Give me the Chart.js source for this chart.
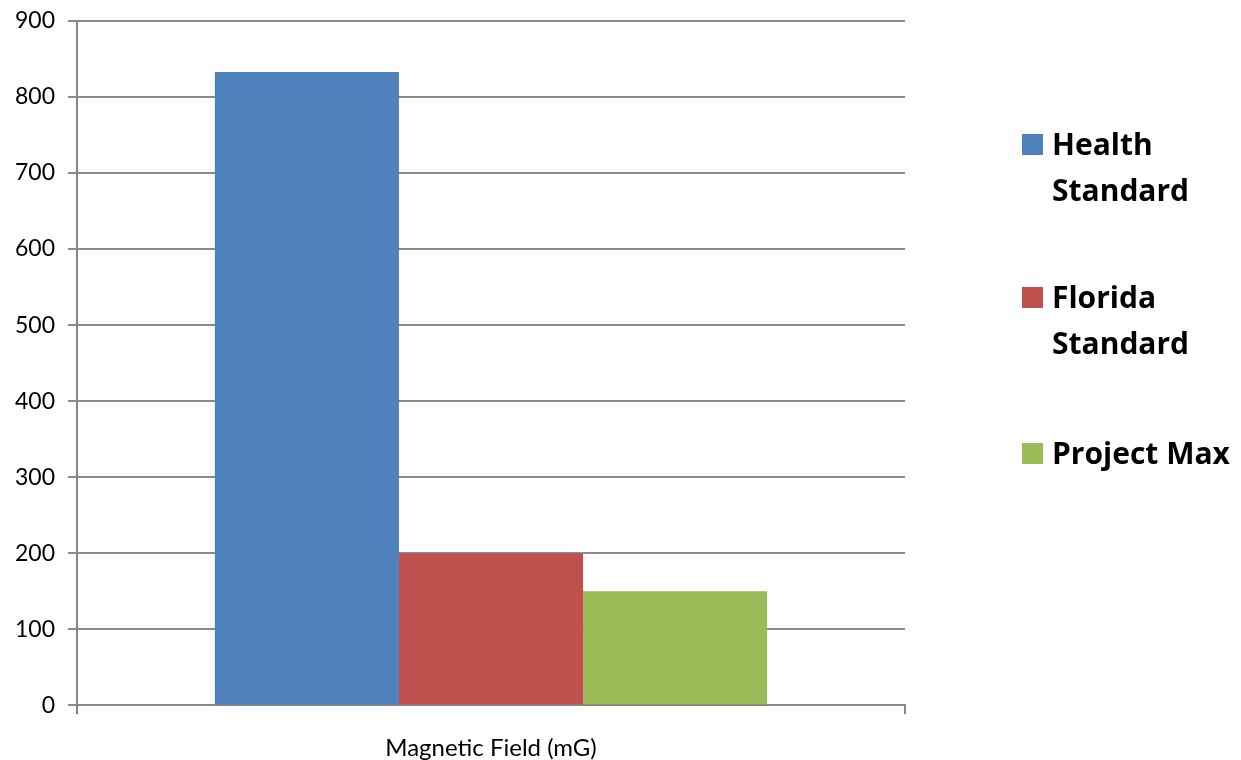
<!DOCTYPE html>
<html>
<head>
<meta charset="utf-8">
<script src="https://cdn.jsdelivr.net/npm/chart.js@4"></script>
<style>
  body { margin: 0; background: #fff; }
  #wrap { position: relative; width: 1241px; height: 760px; overflow: hidden; }
  #legend { position: absolute; left: 1022px; top: 0; font-family: "Open Sans", Lato, sans-serif; font-weight: bold; font-size: 30px; color: #000; }
  .item { position: absolute; left: 0; width: 230px; }
  .box { position: absolute; left: 0; top: 13px; width: 21px; height: 21px; }
  .txt { position: absolute; left: 30px; top: 0; line-height: 46px; white-space: nowrap; }
</style>
</head>
<body>
<div id="wrap">
  <canvas id="chart" width="1241" height="763"></canvas>
  <div id="legend"></div>
</div>
<script>
// data
const categories = [''];
const seriesNames = [['Health', 'Standard'], ['Florida', 'Standard'], ['Project Max']];
const seriesColors = ['#4F81BD', '#C0504D', '#9BBB59'];
const healthStandard = [833];
const floridaStandard = [200];
const projectMax = [150];
const yTicks = [0, 100, 200, 300, 400, 500, 600, 700, 800, 900];

const values = [healthStandard, floridaStandard, projectMax];

const ctx = document.getElementById('chart').getContext('2d');
new Chart(ctx, {
  type: 'bar',
  data: {
    labels: categories,
    datasets: values.map((v, i) => ({
      label: seriesNames[i].join(' '),
      data: v,
      backgroundColor: seriesColors[i],
      borderWidth: 0,
      categoryPercentage: 0.667,
      barPercentage: 1
    }))
  },
  options: {
    responsive: false,
    animation: false,
    layout: { padding: { top: 21, right: 336, left: 8, bottom: 0 } },
    plugins: {
      legend: { display: false },
      tooltip: { enabled: false }
    },
    scales: {
      x: {
        grid: { display: true, drawOnChartArea: false, offset: true, color: '#868686', lineWidth: 2, tickLength: 9 },
        border: { color: '#868686', width: 2 },
        ticks: { display: false },
        title: {
          display: true,
          text: 'Magnetic Field (mG)',
          color: '#000',
          font: { family: 'Lato, "Open Sans", sans-serif', size: 24 },
          padding: { top: 20, bottom: 0 }
        }
      },
      y: {
        min: yTicks[0],
        max: yTicks[yTicks.length - 1],
        afterBuildTicks: axis => { axis.ticks = yTicks.map(v => ({ value: v })); },
        afterFit: axis => {
          axis.width = 69;
          axis.paddingTop = 0;
          axis.paddingBottom = 0;
        },
        grid: { color: '#8c8c8c', lineWidth: 2, tickLength: 9 },
        border: { color: '#868686', width: 2 },
        ticks: {
          color: '#000',
          padding: 13,
          font: { family: 'Lato, "Open Sans", sans-serif', size: 23 }
        }
      }
    }
  }
});

// legend
const legend = document.getElementById('legend');
const tops = [121, 274, 430];
seriesNames.forEach((lines, i) => {
  const item = document.createElement('div');
  item.className = 'item';
  item.style.top = tops[i] + 'px';
  item.innerHTML = '<div class="box" style="background:' + seriesColors[i] + '"></div>' +
    '<div class="txt">' + lines.join('<br>') + '</div>';
  legend.appendChild(item);
});
</script>
</body>
</html>
